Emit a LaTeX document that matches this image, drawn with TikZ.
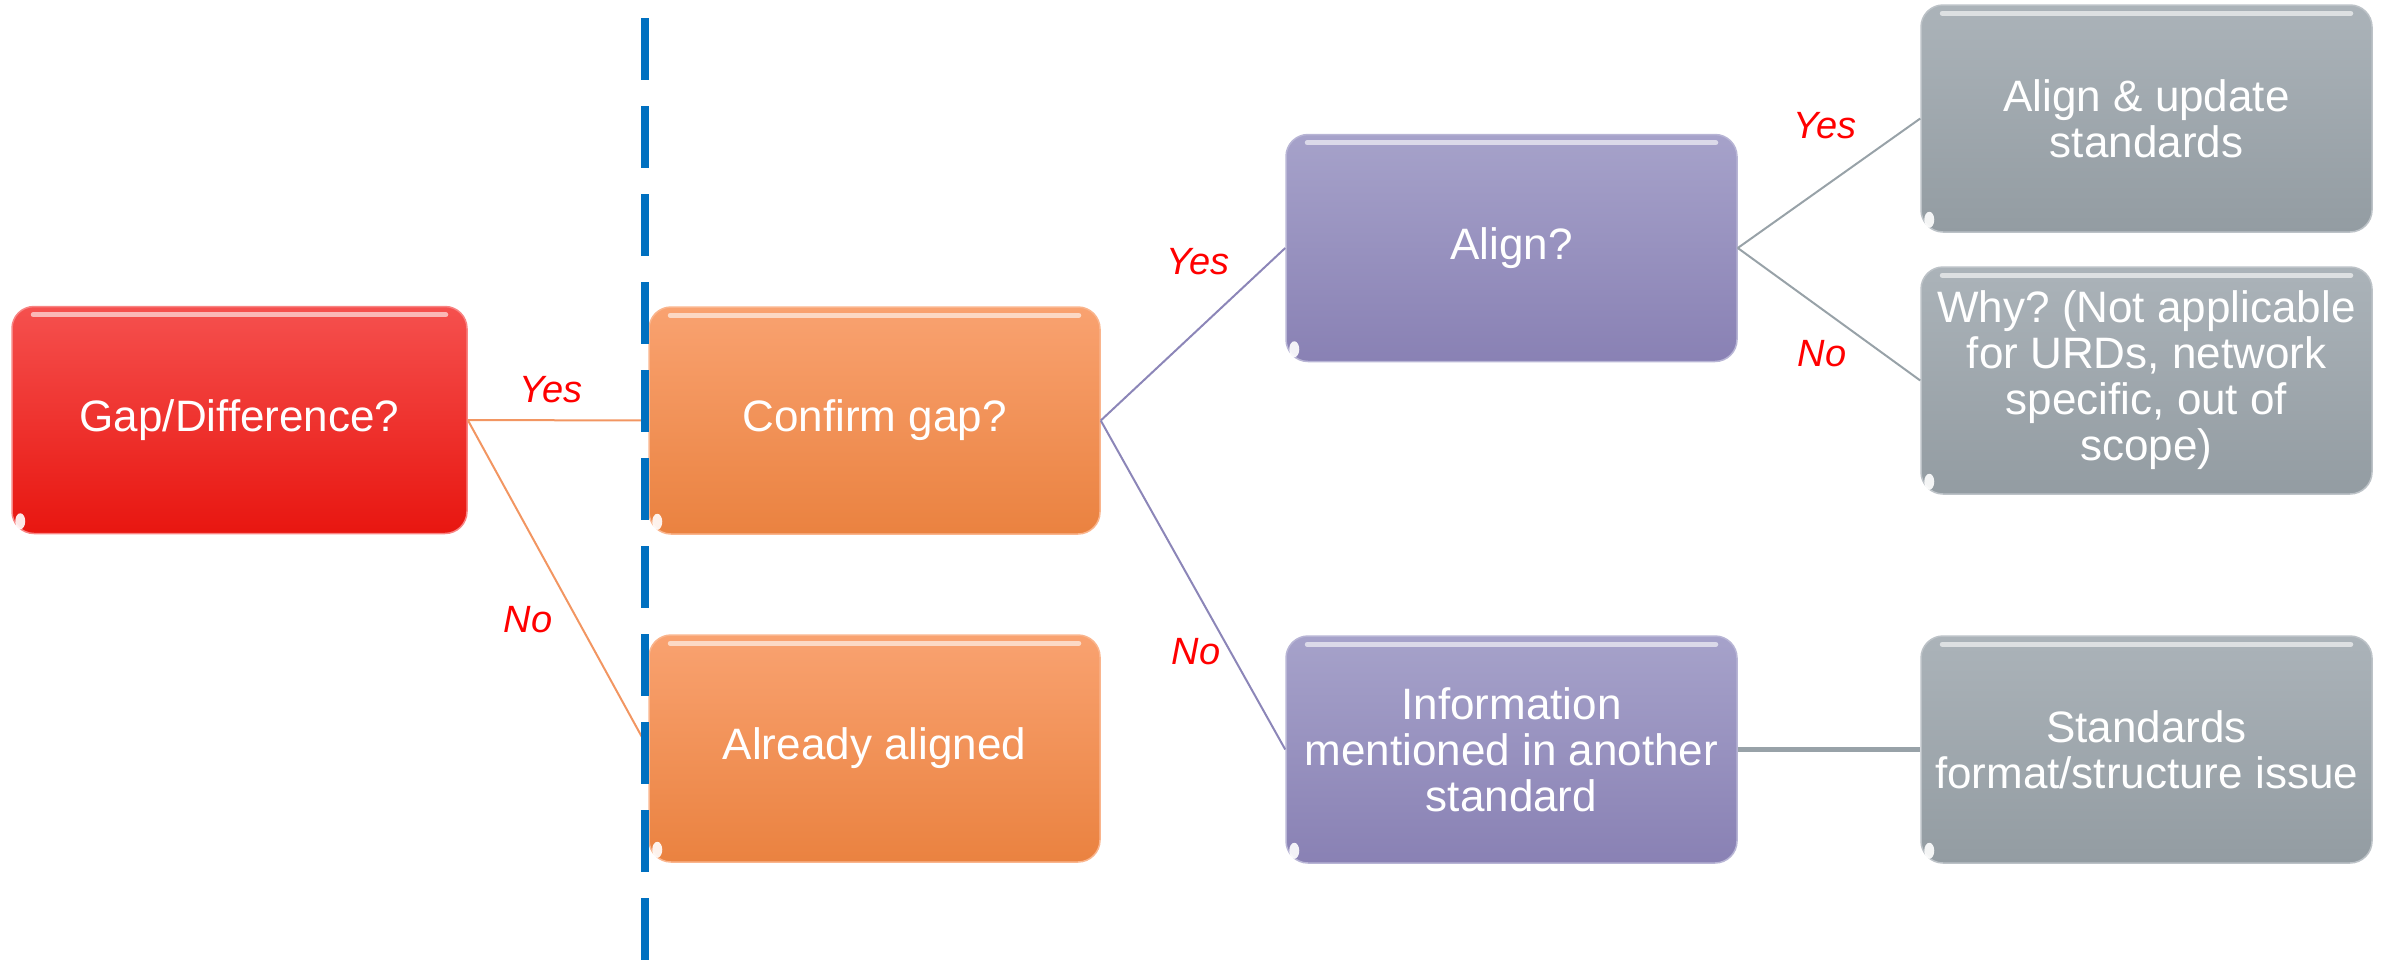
\documentclass[tikz,border=0pt]{standalone}
\usepackage{fontspec}
\setmainfont{Liberation Sans}
\frenchspacing
\definecolor{redtop}{RGB}{245,80,78}
\definecolor{redbot}{RGB}{232,22,16}
\definecolor{orgtop}{RGB}{249,162,112}
\definecolor{orgbot}{RGB}{234,130,64}
\definecolor{purtop}{RGB}{166,162,202}
\definecolor{purbot}{RGB}{137,129,180}
\definecolor{grytop}{RGB}{171,179,185}
\definecolor{grybot}{RGB}{147,156,162}
\definecolor{orgline}{RGB}{242,150,98}
\definecolor{purline}{RGB}{140,134,184}
\definecolor{gryline}{RGB}{152,162,168}
\definecolor{dashblue}{RGB}{0,112,192}
\definecolor{lblred}{RGB}{255,0,0}
\newcommand\boxgloss[1]{%
  \draw[white, opacity=0.6, line width=5pt, line cap=round]
    ([xshift=22pt,yshift=-9pt]#1.north west) -- ([xshift=-22pt,yshift=-9pt]#1.north east);
  \fill[white, opacity=0.9] ([xshift=9pt,yshift=13pt]#1.south west) ellipse (5pt and 8pt);
}
\begin{document}
\begin{tikzpicture}[x=1pt,y=-1pt,
  box/.style={rounded corners=22pt, minimum width=451pt, minimum height=227pt,
    text=white, align=center, inner sep=0pt, line width=1.5pt,
    font=\fontsize{44}{46}\selectfont\frenchspacing},
  redbox/.style={box, minimum width=455pt, top color=redtop, bottom color=redbot, draw=redtop!70!white},
  orgbox/.style={box, top color=orgtop, bottom color=orgbot, draw=orgtop!80!white},
  purbox/.style={box, top color=purtop, bottom color=purbot, draw=purtop!80!white},
  grybox/.style={box, top color=grytop, bottom color=grybot, draw=grytop!80!white},
  lbl/.style={text=lblred, font=\fontsize{38}{40}\selectfont\itshape, inner sep=0pt},
  orgconn/.style={draw=orgline, line width=2pt},
  purconn/.style={draw=purline, line width=2pt},
  gryconn/.style={draw=gryline, line width=2pt},
  dashline/.style={draw=dashblue, line width=8pt, dash pattern=on 62pt off 26pt}
]
\useasboundingbox (0,0) rectangle (2387,962);

\node[redbox] (gap) at (239.5,420) {Gap/Difference?};
\node[orgbox] (confirm) at (874.5,420.5) {Confirm gap?};
\node[orgbox] (already) at (874.5,748.5) {Already aligned};
\node[purbox] (align) at (1511.5,248) {Align?};
\node[purbox] (info) at (1511.5,749.5) {Information\\mentioned in another\\standard};
\node[grybox] (update) at (2146.5,118.5) {Align \& update\\standards};
\node[grybox] (why) at (2146.5,380.5) {Why? (Not applicable\\for URDs, network\\specific, out of\\scope)};
\node[grybox] (format) at (2146.5,749.5) {Standards\\format/structure issue};

\boxgloss{gap}
\boxgloss{confirm}
\boxgloss{already}
\boxgloss{align}
\boxgloss{info}
\boxgloss{update}
\boxgloss{why}
\boxgloss{format}

\draw[orgconn] (gap.east) -- (confirm.west);
\draw[orgconn] (gap.east) -- (already.west);
\draw[purconn] (confirm.east) -- (align.west);
\draw[purconn] (confirm.east) -- (info.west);
\draw[gryconn] (align.east) -- (update.west);
\draw[gryconn] (align.east) -- (why.west);
\draw[gryconn, line width=4.5pt] (info.east) -- (format.west);

\node[lbl] (yes1) at (551,390) {Yes};
\node[lbl] (no1) at (528,620) {No};
\node[lbl] (yes2) at (1198,262) {Yes};
\node[lbl] (no2) at (1196,652) {No};
\node[lbl] (yes3) at (1825,126) {Yes};
\node[lbl] (no3) at (1822,354) {No};

\coordinate (dtop) at (645,18);
\coordinate (dbot) at (645,962);
\draw[dashline] (dtop) -- (dbot);
\end{tikzpicture}
\end{document}
